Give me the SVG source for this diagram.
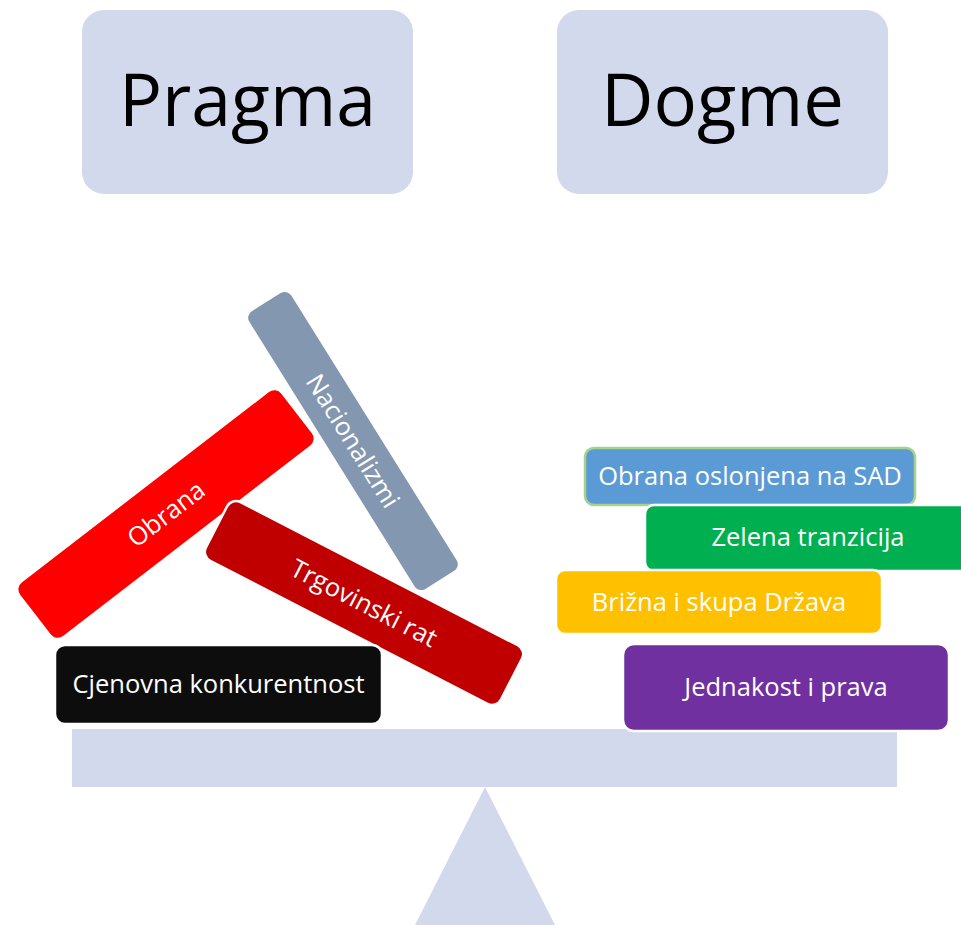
<svg xmlns="http://www.w3.org/2000/svg" width="961" height="925" viewBox="0 0 961 925">
<style>
.lbl{font-family:"Open Sans","Noto Sans","DejaVu Sans",sans-serif;font-size:25.5px;fill:#ffffff;text-anchor:middle}
.big{font-family:"Open Sans","Noto Sans","DejaVu Sans",sans-serif;font-size:74px;fill:#000000;text-anchor:middle}
.head{fill:#D3D9EC}
.blk{stroke:#ffffff;stroke-width:2.5}
</style>
<rect width="961" height="925" fill="#ffffff"/>
<g id="scale">
  <rect x="72" y="729" width="825" height="58" fill="#D3D9EC"/>
  <polygon points="485,787 555,925 415,925" fill="#D3D9EC"/>
</g>
<g id="pragma">
  <rect class="head" x="82" y="10" width="331" height="184" rx="22" ry="22"/>
  <text class="big" x="247.5" y="126" textLength="257" lengthAdjust="spacingAndGlyphs">Pragma</text>
</g>
<g id="dogme">
  <rect class="head" x="557" y="10" width="331" height="184" rx="22" ry="22"/>
  <text class="big" x="722.5" y="126" textLength="243" lengthAdjust="spacingAndGlyphs">Dogme</text>
</g>
<g id="nacionalizmi" transform="translate(353,441) rotate(58)">
  <rect class="blk" x="-165" y="-26" width="330" height="52" rx="9" fill="#8497B0"/>
  <text class="lbl" x="0" y="9">Nacionalizmi</text>
</g>
<g id="obrana" transform="translate(166,514) rotate(-37.6)">
  <rect class="blk" x="-166" y="-35" width="332" height="70" rx="10" fill="#FF0000"/>
  <text class="lbl" x="0" y="9">Obrana</text>
</g>
<g id="trgovinski" transform="translate(364,603) rotate(27.3)">
  <rect class="blk" x="-166" y="-33" width="332" height="66" rx="10" fill="#C00000"/>
  <text class="lbl" x="0" y="9">Trgovinski rat</text>
</g>
<g id="cjenovna">
  <rect class="blk" x="55" y="645" width="327" height="79" rx="10" fill="#0D0D0D"/>
  <text class="lbl" x="218.5" y="693">Cjenovna konkurentnost</text>
</g>
<g id="obrana-sad">
  <rect x="585" y="448" width="330" height="57" rx="9" fill="#5B9BD5" stroke="#A9D18E" stroke-width="2.5"/>
  <text class="lbl" x="750" y="485">Obrana oslonjena na SAD</text>
</g>
<g id="zelena">
  <rect class="blk" x="645" y="505" width="330" height="66" rx="9" fill="#00B050"/>
  <text class="lbl" x="808" y="546">Zelena tranzicija</text>
</g>
<g id="brizna">
  <rect class="blk" x="556" y="570" width="326" height="64" rx="9" fill="#FFC000"/>
  <text class="lbl" x="719" y="611">Brižna i skupa Država</text>
</g>
<g id="jednakost">
  <rect class="blk" x="623" y="644" width="326" height="87" rx="11" fill="#7030A0" stroke-width="3"/>
  <text class="lbl" x="786" y="696">Jednakost i prava</text>
</g>
<g id="connectors"></g>
</svg>
